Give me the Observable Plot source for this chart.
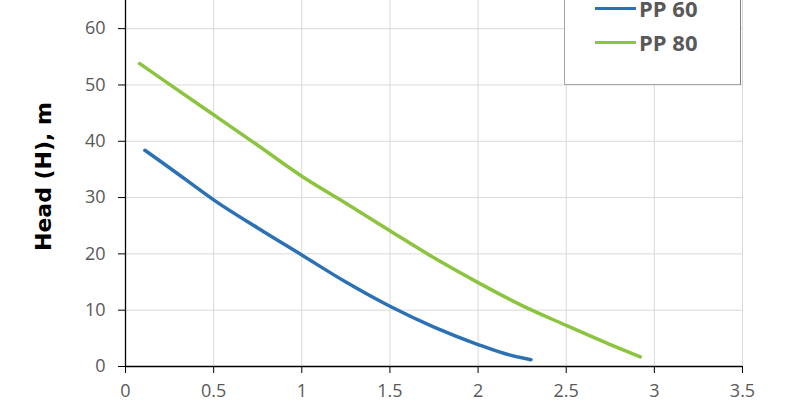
<!DOCTYPE html>
<html>
<head>
<meta charset="utf-8">
<script src="https://cdn.jsdelivr.net/npm/d3@7"></script>
<script src="https://cdn.jsdelivr.net/npm/@observablehq/plot@0.6"></script>
<style>
  html, body { margin: 0; padding: 0; background: white; }
  #wrap { position: relative; width: 800px; height: 400px; overflow: hidden; font-family: "Open Sans", sans-serif; }
  #legend { position: absolute; left: 564px; top: -6px; width: 177px; height: 91px; box-sizing: border-box;
            background: white; border: 1px solid #a6a6a6; border-right-color: #7f7f7f; }
  .item { position: absolute; left: 30px; height: 26px; display: flex; align-items: center; }
  .swatch { width: 41px; height: 3px; margin-right: 3px; }
  .lab { font-weight: 700; font-size: 22px; color: #595959; line-height: 26px; }
</style>
</head>
<body>
<div id="wrap"><div id="chart"></div><div id="legend"></div></div>
<script>
// Data
const seriesNames = ["PP 60", "PP 80"];
const seriesColors = ["#2b71b3", "#8cc43f"];
const pp60Flow = [0.11, 0.2, 0.35, 0.5, 0.75, 1, 1.25, 1.5, 1.75, 2, 2.15, 2.3];
const pp60Head = [38.4, 36.4, 33.0, 29.6, 24.6, 19.8, 15.0, 10.7, 7.0, 3.9, 2.3, 1.2];
const pp80Flow = [0.08, 0.25, 0.5, 0.75, 1, 1.25, 1.5, 1.75, 2, 2.25, 2.5, 2.75, 2.92];
const pp80Head = [53.8, 50.1, 44.7, 39.3, 33.8, 29.0, 24.1, 19.3, 14.9, 10.8, 7.3, 3.9, 1.7];
const xTicks = [0, 0.5, 1, 1.5, 2, 2.5, 3, 3.5];
const yTicks = [0, 10, 20, 30, 40, 50, 60];
const yLabel = "Head (H), m";

const rows = [
  ...pp60Flow.map((q, i) => ({series: seriesNames[0], q, h: pp60Head[i]})),
  ...pp80Flow.map((q, i) => ({series: seriesNames[1], q, h: pp80Head[i]}))
];

const chart = Plot.plot({
  width: 800,
  height: 400,
  marginLeft: 125,
  marginRight: 58,
  marginTop: 0,
  marginBottom: 34,
  style: {fontFamily: "Open Sans, sans-serif", fontSize: "18px", color: "#595959", background: "white"},
  x: {domain: [0, 3.5], label: null},
  y: {domain: [0, 65], label: null},
  color: {domain: seriesNames, range: seriesColors},
  marks: [
    Plot.gridX(xTicks.slice(1), {stroke: "#d9d9d9", strokeOpacity: 1}),
    Plot.gridY(yTicks.slice(1), {stroke: "#d9d9d9", strokeOpacity: 1}),
    Plot.axisX(xTicks, {tickSize: 7, tickPadding: 11, stroke: "black", label: null, fontSize: 18, tickFormat: d => String(d)}),
    Plot.axisY(yTicks, {tickSize: 7, tickPadding: 13, stroke: "black", label: null, fontSize: 18}),
    Plot.ruleX([0], {stroke: "black", strokeWidth: 1.3}),
    Plot.ruleY([0], {stroke: "black", strokeWidth: 1.3}),
    Plot.line(rows, {x: "q", y: "h", z: "series", stroke: "series", strokeWidth: 3.5, curve: "monotone-x"}),
    Plot.text([yLabel], {frameAnchor: "left", textAnchor: "middle", rotate: -90, dx: -82, dy: -7, fontSize: 22, fontWeight: "bold", fill: "black", fontFamily: "DejaVu Sans, sans-serif"})
  ]
});
document.getElementById("chart").appendChild(chart);

// Legend
const legend = document.getElementById("legend");
const rowCenters = [13, 47];
seriesNames.forEach((name, i) => {
  const it = document.createElement("div");
  it.className = "item";
  it.style.top = (rowCenters[i] - 13) + "px";
  const sw = document.createElement("div");
  sw.className = "swatch";
  sw.style.background = seriesColors[i];
  const lb = document.createElement("span");
  lb.className = "lab";
  lb.textContent = name;
  it.appendChild(sw); it.appendChild(lb);
  legend.appendChild(it);
});
</script>
</body>
</html>
